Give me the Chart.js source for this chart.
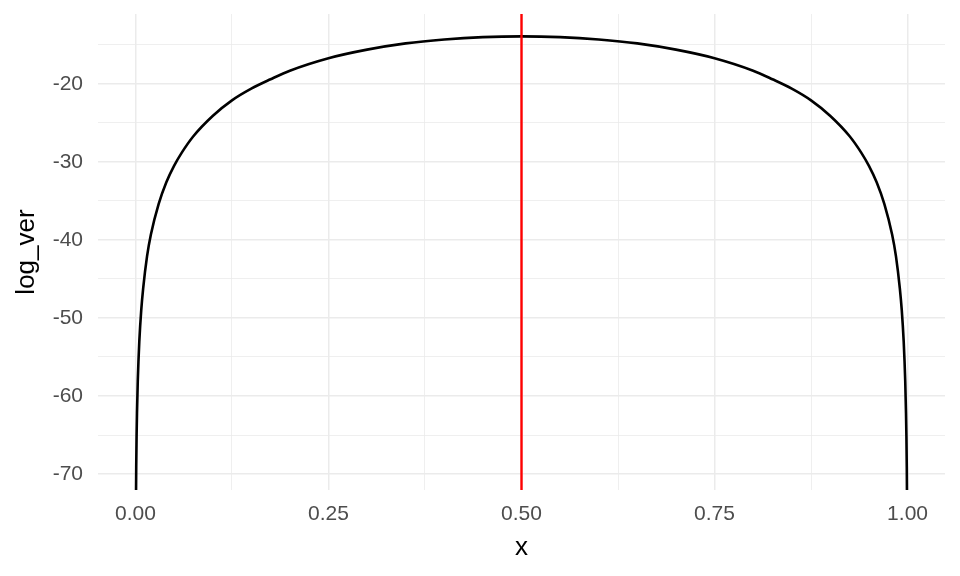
<!DOCTYPE html>
<html>
<head>
<meta charset="utf-8">
<script src="https://cdn.jsdelivr.net/npm/chart.js@4/dist/chart.umd.min.js"></script>
<style>
  html, body { margin: 0; padding: 0; background: #fff; }
  #wrap { width: 960px; height: 576px; }
</style>
</head>
<body>
<div id="wrap"><canvas id="myChart" width="960" height="576"></canvas></div>
<script>
// values
const xs = [0.0005, 0.001, 0.0015, 0.002, 0.003, 0.004, 0.005, 0.0075, 0.01, 0.015, 0.02, 0.03, 0.04, 0.05, 0.06, 0.075,
  0.1, 0.125, 0.15, 0.175, 0.2, 0.25, 0.3, 0.35, 0.4, 0.45, 0.5,
  0.55, 0.6, 0.65, 0.7, 0.75, 0.8, 0.825, 0.85, 0.875, 0.9, 0.925, 0.94, 0.95, 0.96, 0.97, 0.98, 0.985, 0.99,
  0.9925, 0.995, 0.996, 0.997, 0.998, 0.9985, 0.999, 0.9995];
const logVer = [-76.0, -69.1, -65.0, -62.2, -58.1, -55.3, -53.0, -49.0, -46.2, -42.1, -39.3, -35.4, -32.6, -30.5, -28.8, -26.7,
  -24.1, -22.1, -20.6, -19.4, -18.3, -16.7, -15.6, -14.8, -14.3, -14.0, -13.9,
  -14.0, -14.3, -14.8, -15.6, -16.7, -18.3, -19.4, -20.6, -22.1, -24.1, -26.7, -28.8, -30.5, -32.6, -35.4, -39.3, -42.1, -46.2,
  -49.0, -53.0, -55.3, -58.1, -62.2, -65.0, -69.1, -76.0];
const markX = [0.5, 0.5];
const markY = [-80, 0];
const xTicks = [0, 0.125, 0.25, 0.375, 0.5, 0.625, 0.75, 0.875, 1];
const xLabels = ["0.00", "", "0.25", "", "0.50", "", "0.75", "", "1.00"];
const yTicks = [-70, -65, -60, -55, -50, -45, -40, -35, -30, -25, -20, -15];
const yLabels = ["-70", "", "-60", "", "-50", "", "-40", "", "-30", "", "-20", ""];

const ctx = document.getElementById("myChart");

const curve = xs.map((x, i) => ({ x: x, y: logVer[i] }));
const mark = markX.map((x, i) => ({ x: x, y: markY[i] }));

const font = "Liberation Sans, Arial, sans-serif";

function gridWidth(labels) {
  return (c) => (labels[c.index] === "" ? 0.8 : 1.5);
}
function noPad(s) {
  s.paddingTop = 0; s.paddingBottom = 0; s.paddingLeft = 0; s.paddingRight = 0;
}

new Chart(ctx, {
  type: "scatter",
  data: {
    datasets: [
      {
        data: mark,
        showLine: true,
        borderColor: "#FF0000",
        borderWidth: 2.4,
        pointRadius: 0,
        order: 0,
      },
      {
        data: curve,
        showLine: true,
        borderColor: "#000000",
        borderWidth: 2.6,
        pointRadius: 0,
        cubicInterpolationMode: "monotone",
        order: 1,
      },
    ],
  },
  options: {
    responsive: false,
    animation: false,
    layout: { padding: { top: 14, right: 15, left: 0, bottom: 0 } },
    plugins: { legend: { display: false }, tooltip: { enabled: false } },
    scales: {
      x: {
        type: "linear",
        min: -0.0485,
        max: 1.0485,
        border: { display: false },
        grid: { color: "#EBEBEB", lineWidth: gridWidth(xLabels), drawTicks: false },
        afterBuildTicks: (s) => { s.ticks = xTicks.map((v) => ({ value: v })); },
        afterFit: (s) => { s.height = 86; noPad(s); },
        ticks: {
          padding: 12,
          color: "#4D4D4D",
          font: { family: font, size: 21 },
          maxRotation: 0,
          autoSkip: false,
          callback: (v, i) => xLabels[i],
        },
        title: {
          display: true,
          text: "x",
          color: "#000",
          font: { family: font, size: 26 },
          padding: { top: 4, bottom: 13 },
        },
      },
      y: {
        type: "linear",
        min: -72.05,
        max: -11.03,
        border: { display: false },
        grid: { color: "#EBEBEB", lineWidth: gridWidth(yLabels), drawTicks: false },
        afterBuildTicks: (s) => { s.ticks = yTicks.map((v) => ({ value: v })); },
        afterFit: (s) => { s.width = 98; noPad(s); },
        ticks: {
          padding: 15,
          color: "#4D4D4D",
          font: { family: font, size: 21 },
          autoSkip: false,
          callback: (v, i) => yLabels[i],
        },
        title: {
          display: true,
          text: "log_ver",
          color: "#000",
          font: { family: font, size: 26 },
          padding: { top: 11, bottom: 0 },
        },
      },
    },
  },
});
</script>
</body>
</html>
